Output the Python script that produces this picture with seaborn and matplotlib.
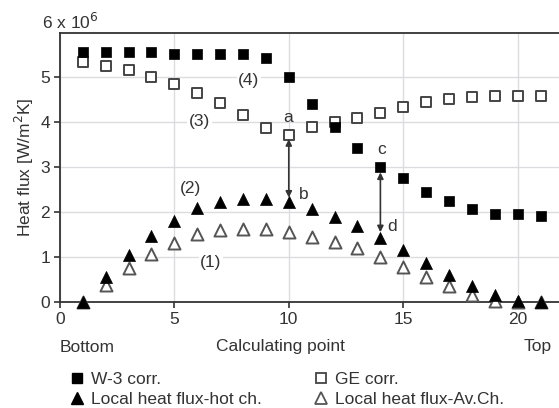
import numpy as np
import pandas as pd
import seaborn as sns
import matplotlib.pyplot as plt
from matplotlib.lines import Line2D

points = list(range(1, 22))
w3 = [5.55, 5.55, 5.55, 5.55, 5.52, 5.52, 5.52, 5.52, 5.42, 5.0, 4.4, 3.9, 3.43, 3.0,
      2.75, 2.45, 2.24, 2.07, 1.96, 1.95, 1.92]
ge = [5.33, 5.25, 5.15, 5.0, 4.84, 4.65, 4.42, 4.15, 3.86, 3.72, 3.88, 4.0, 4.1, 4.21,
      4.33, 4.44, 4.51, 4.56, 4.58, 4.58, 4.58]
hot = [0.0, 0.56, 1.05, 1.47, 1.8, 2.08, 2.22, 2.3, 2.3, 2.22, 2.07, 1.89, 1.69, 1.42,
       1.16, 0.87, 0.6, 0.36, 0.16, 0.02, 0.0]
av = [0.0, 0.38, 0.75, 1.06, 1.32, 1.5, 1.6, 1.62, 1.62, 1.55, 1.45, 1.33, 1.2, 0.99,
      0.78, 0.56, 0.36, 0.16, 0.02, 0.0, 0.0]
xticks = [0, 5, 10, 15, 20]
yticks = [0, 1, 2, 3, 4, 5]
labels = ["W-3 corr.", "GE corr.", "Local heat flux-hot ch.", "Local heat flux-Av.Ch."]

sns.set_theme(style="white")
plt.rcParams['font.family'] = ['Liberation Sans', 'DejaVu Sans']
FS = 12.5
TC = "#333333"

fig = plt.figure(figsize=(5.59, 4.08), dpi=100)
ax = fig.add_axes([0.107, 0.26, 0.893, 0.659])

df = pd.DataFrame({"x": points, "w3": w3, "ge": ge, "hot": hot, "av": av})
sns.scatterplot(data=df, x="x", y="av", marker="^", s=75, facecolor="white",
                edgecolor="#555555", linewidth=1.4, ax=ax, zorder=3, clip_on=False)
sns.scatterplot(data=df, x="x", y="hot", marker="^", s=75, color="black",
                edgecolor="black", linewidth=0.5, ax=ax, zorder=4, clip_on=False)
sns.scatterplot(data=df, x="x", y="ge", marker="s", s=55, facecolor="white",
                edgecolor="#444444", linewidth=1.4, ax=ax, zorder=3)
sns.scatterplot(data=df, x="x", y="w3", marker="s", s=60, color="black",
                edgecolor="black", linewidth=0.5, ax=ax, zorder=4)

ax.set_xlim(0, 21.8)
ax.set_ylim(0, 5.98)
ax.set_xticks(xticks)
ax.set_yticks(yticks)
ax.grid(True, color="#dcdce0", linewidth=1.0, zorder=0)
ax.set_axisbelow(True)
for s in ["left", "bottom", "top"]:
    ax.spines[s].set_color(TC)
    ax.spines[s].set_linewidth(1.3)
ax.spines["right"].set_visible(False)
ax.tick_params(axis="both", direction="out", length=4, width=1.2, color=TC,
               labelsize=FS, labelcolor=TC, left=True, bottom=True, pad=3)
ax.set_xlabel("")
ax.set_ylabel("Heat flux [W/m$^2$K]", fontsize=FS, color=TC, labelpad=3)

ax.text(-0.78, 6.22, "6 x 10$^6$", fontsize=FS, color=TC, ha="left", va="center",
        clip_on=False)

bbox = dict(facecolor="white", edgecolor="none", pad=1)
for txt, x, y in [("(4)", 8.25, 4.93), ("(3)", 6.1, 4.02), ("(2)", 5.7, 2.52), ("(1)", 6.6, 0.88)]:
    ax.text(x, y, txt, fontsize=FS, color=TC, ha="center", va="center", bbox=bbox, zorder=2)
for txt, x, y in [("a", 9.95, 4.1), ("b", 10.65, 2.38), ("c", 14.05, 3.4), ("d", 14.5, 1.68)]:
    ax.text(x, y, txt, fontsize=FS, color=TC, ha="center", va="center", zorder=5)

arrow = dict(arrowstyle="<|-|>", color=TC, lw=1.2, mutation_scale=9,
             shrinkA=0, shrinkB=0)
ax.annotate("", xy=(10, 3.62), xytext=(10, 2.32), arrowprops=arrow, zorder=5)
ax.annotate("", xy=(14, 2.88), xytext=(14, 1.55), arrowprops=arrow, zorder=5)

ly = 1 - 347 / 408
fig.text(60 / 559, ly, "Bottom", fontsize=FS, color=TC, ha="left", va="center")
fig.text(280 / 559, ly, "Calculating point", fontsize=FS, color=TC, ha="center", va="center")
fig.text(538 / 559, ly, "Top", fontsize=FS, color=TC, ha="center", va="center")

handles = [
    Line2D([], [], ls="", marker="s", markersize=7, markerfacecolor="black", markeredgecolor="black"),
    Line2D([], [], ls="", marker="^", markersize=8, markerfacecolor="black", markeredgecolor="black"),
    Line2D([], [], ls="", marker="s", markersize=7, markerfacecolor="white", markeredgecolor="#444444", markeredgewidth=1.3),
    Line2D([], [], ls="", marker="^", markersize=8, markerfacecolor="white", markeredgecolor="#555555", markeredgewidth=1.3),
]
leg_labels = [labels[0], labels[2], labels[1], labels[3]]
fig.legend(handles, leg_labels, ncol=2, loc="upper left", bbox_to_anchor=(0.113, 0.106),
           borderaxespad=0, frameon=False, fontsize=FS, handlelength=0.8, handletextpad=0.4,
           columnspacing=3.0, labelspacing=0.3, labelcolor=TC,
           bbox_transform=fig.transFigure)

fig.savefig("out.png", dpi=100)
